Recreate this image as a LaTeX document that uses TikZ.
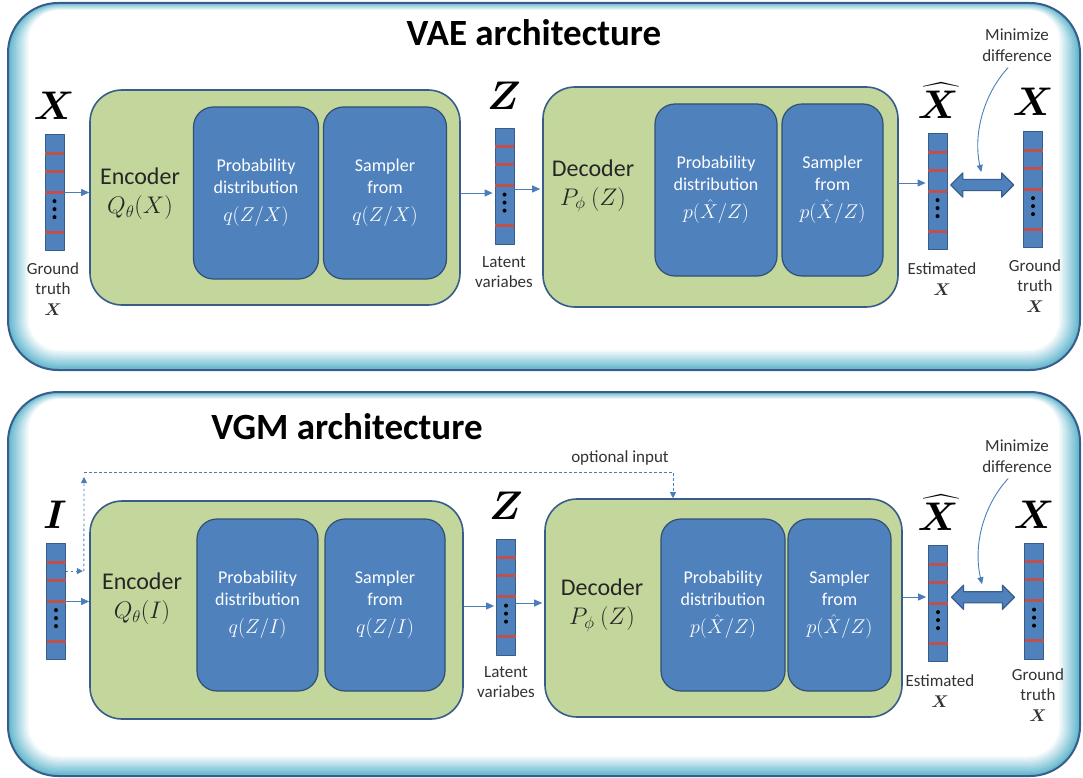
\RequirePackage{fix-cm}
\documentclass[tikz,border=0pt]{standalone}
\usepackage{amsmath}
\usepackage{fontspec}
\setmainfont{Carlito}
\usetikzlibrary{positioning,calc,shapes.arrows,arrows.meta}

\definecolor{panelblue}{RGB}{56,93,138}
\definecolor{glowcyan}{RGB}{75,172,198}
\definecolor{boxgreen}{RGB}{195,214,155}
\definecolor{boxblue}{RGB}{79,129,189}
\definecolor{stripered}{RGB}{192,80,77}
\definecolor{linkblue}{RGB}{74,126,187}

\tikzset{
  stage/.style={draw=panelblue, line width=1.6pt, fill=boxgreen, rounded corners=32pt, inner sep=0pt},
  block/.style={draw=panelblue!85!black, line width=1.2pt, fill=boxblue, rounded corners=20pt, inner sep=0pt,
    text=white, align=center, font=\fontsize{18}{22}\selectfont},
  stagetxt/.style={align=center, text=black!85, font=\fontsize{24}{29}\selectfont},
  vecbox/.style={draw=panelblue, line width=0.8pt, fill=boxblue, minimum width=19pt, minimum height=116pt, inner sep=0pt},
  conn/.style={->, linkblue, line width=0.9pt},
  optline/.style={-{Triangle[length=6pt,width=6pt]}, linkblue, line width=0.9pt, line cap=butt, dash pattern=on 2.5pt off 2.5pt},
  thinlink/.style={-{Triangle[length=7pt,width=6pt]}, linkblue, line width=0.9pt},
  diffarrow/.style={double arrow, draw=panelblue, line width=1.2pt, fill=boxblue, minimum height=63pt,
    minimum width=23pt, inner xsep=0pt, inner ysep=5pt, double arrow head extend=6.5pt},
  lbl/.style={align=center, text=black!80, font=\fontsize{17}{20.5}\selectfont},
  biglbl/.style={inner sep=0pt, font=\fontsize{40}{40}\selectfont},
  titlelbl/.style={font=\fontsize{37}{42}\selectfont\bfseries},
}

% red stripes and dots of a vector
\newcommand{\vecmarks}[1]{%
  \foreach \s in {19,37,58,98}
    \draw[stripered, line width=3pt, line cap=butt] ($(#1.north west)+(0.4,\s)$) -- ($(#1.north east)+(-0.4,\s)$);
  \foreach \m in {67,75,83}
    \fill ($(#1.north)+(0,\m)$) circle (2pt);
}
\newcommand{\bigmath}[1]{{\fontsize{20}{22}\selectfont$#1$}}

\begin{document}
\begin{tikzpicture}[x=1pt,y=-1pt,line cap=round,line join=round,>={Triangle[length=8pt,width=7pt]}]
  \useasboundingbox (0,0) rectangle (1083,778);

  % panels with a glow inside
  \foreach \ya/\yb in {3/370,392/776}{
    \foreach \i in {0,...,16}{
      \pgfmathsetmacro\p{88-5.5*\i}
      \pgfmathsetmacro\r{50-1.2*\i}
      \fill[glowcyan!\p!white, rounded corners=\r pt] (8+1.3*\i,\ya+0.45*\i) rectangle (1080-1.3*\i,\yb-1.25*\i);
    }
    \draw[panelblue, line width=2pt, rounded corners=50pt] (8,\ya) rectangle (1080,\yb);
  }

  %% VAE
  \node[titlelbl] (vae) at (534,33) {VAE architecture};

  \node[stage, minimum width=370pt, minimum height=215pt] (enc1) at (275,197.5) {};
  \node[block, minimum width=125pt, minimum height=172pt] (encp1) at (256,193) {Probability\\distribution\\[6pt]\bigmath{q(Z/X)}};
  \node[block, minimum width=123pt, minimum height=172pt] (encs1) at (385,193) {Sampler\\from\\[6pt]\bigmath{q(Z/X)}};
  \node[stagetxt] (enct1) at (140,194) {Encoder\\$Q_\theta(X)$};

  \node[stage, minimum width=355pt, minimum height=220pt] (dec1) at (720.5,197) {};
  \node[block, minimum width=122pt, minimum height=172pt] (decp1) at (716,190) {Probability\\distribution\\[6pt]\bigmath{p(\hat{X}/Z)}};
  \node[block, minimum width=101pt, minimum height=172pt] (decs1) at (832.5,190) {Sampler\\from\\[6pt]\bigmath{p(\hat{X}/Z)}};
  \node[stagetxt] (dect1) at (593,186) {Decoder\\$P_\phi\ (Z)$};

  \node[vecbox] (x1) at (54.5,192.5) {};
  \node[vecbox] (z1) at (504.5,186) {};
  \node[vecbox] (xh1) at (937.5,191.5) {};
  \node[vecbox] (xg1) at (1033,189.5) {};
  \foreach \v in {x1,z1,xh1,xg1} {\vecmarks{\v}}

  \node[biglbl] (xl1) at (54,106) {$\boldsymbol{X}$};
  \node[biglbl] (zl1) at (504,96) {$\boldsymbol{Z}$};
  \node[biglbl] (xhl1) at (938,101) {$\boldsymbol{\widehat{X}}$};
  \node[biglbl] (xgl1) at (1033,102) {$\boldsymbol{X}$};

  \node[lbl] (gt1) at (53,289) {Ground\\truth\\$\boldsymbol{X}$};
  \node[lbl] (lv1) at (504,272) {Latent\\variabes};
  \node[lbl] (est1) at (942,279) {Estimated\\$\boldsymbol{X}$};
  \node[lbl] (gt1r) at (1035,286) {Ground\\truth\\$\boldsymbol{X}$};
  \node[lbl] (md1) at (1017,45) {Minimize\\difference};

  \draw[conn] (x1.east) -- (x1.east -| enc1.west);
  \draw[conn] ($(enc1.east |- z1.west)+(0,7)$) -- ($(z1.west)+(-2,7)$);
  \draw[conn] ($(z1.east)+(0,3)$) -- ($(z1.east -| dec1.west)+(-2,3)$);
  \draw[conn] ($(dec1.east)+(0,-14)$) -- ($(dec1.east -| xh1.west)+(-2,-14)$);
  \node[diffarrow] (da1) at ($(xh1.east)!0.5!(xg1.west)+(-3,-5.5)$) {};
  \draw[thinlink] ($(md1.south)+(-9,3)$) .. controls (983,95) and (973,135) .. ($(da1.center)+(-1,-13)$);

  %% VGM
  \node[titlelbl] (vgm) at (347,427) {VGM architecture};

  \node[stage, minimum width=373pt, minimum height=218pt] (enc2) at (276.5,610) {};
  \node[block, minimum width=121pt, minimum height=172pt] (encp2) at (257.5,605) {Probability\\distribution\\[6pt]\bigmath{q(Z/I)}};
  \node[block, minimum width=120pt, minimum height=172pt] (encs2) at (385,605) {Sampler\\from\\[6pt]\bigmath{q(Z/I)}};
  \node[stagetxt] (enct2) at (142,599) {Encoder\\$Q_\theta(I)$};

  \node[stage, minimum width=357pt, minimum height=218pt] (dec2) at (723.5,608) {};
  \node[block, minimum width=124pt, minimum height=172pt] (decp2) at (723,605) {Probability\\distribution\\[6pt]\bigmath{p(\hat{X}/Z)}};
  \node[block, minimum width=103pt, minimum height=172pt] (decs2) at (839.5,605) {Sampler\\from\\[6pt]\bigmath{p(\hat{X}/Z)}};
  \node[stagetxt] (dect2) at (602,605) {Decoder\\$P_\phi\ (Z)$};

  \node[vecbox] (i2) at (56,601.5) {};
  \node[vecbox] (z2) at (506,597) {};
  \node[vecbox] (xh2) at (938,603.5) {};
  \node[vecbox] (xg2) at (1034,601) {};
  \foreach \v in {i2,z2,xh2,xg2} {\vecmarks{\v}}

  \node[biglbl] (il2) at (55,515) {$\boldsymbol{I}$};
  \node[biglbl] (zl2) at (506,506) {$\boldsymbol{Z}$};
  \node[biglbl] (xhl2) at (938,513) {$\boldsymbol{\widehat{X}}$};
  \node[biglbl] (xgl2) at (1034,515) {$\boldsymbol{X}$};

  \node[lbl] (lv2) at (506,682) {Latent\\variabes};
  \node[lbl] (est2) at (940,691) {Estimated\\$\boldsymbol{X}$};
  \node[lbl] (gt2r) at (1038,695) {Ground\\truth\\$\boldsymbol{X}$};
  \node[lbl] (md2) at (1017,456) {Minimize\\difference};
  \node[lbl] (opt) at (620,458) {optional input};

  \draw[conn] (i2.east) -- (i2.east -| enc2.west);
  \draw[conn] ($(enc2.east |- z2.west)+(0,9)$) -- ($(z2.west)+(-2,9)$);
  \draw[conn] ($(z2.east)+(0,6)$) -- ($(z2.east -| dec2.west)+(-2,6)$);
  \draw[conn] ($(dec2.east)+(0,-11)$) -- ($(dec2.east -| xh2.west)+(-2,-11)$);
  \node[diffarrow] (da2) at ($(xh2.east)!0.5!(xg2.west)+(-3,-5)$) {};
  \draw[thinlink] ($(md2.south)+(-9,3)$) .. controls (983,506) and (973,546) .. ($(da2.center)+(-1,-13)$);

  % optional input line
  \coordinate (ob) at ($(i2.north east)+(18,28)$);
  \coordinate (ot) at (84,472);
  \coordinate (oc) at (673,472);
  \draw[optline] ($(i2.north east)+(0,28)$) -- ($(ob)+(-1,0)$);
  \draw[optline] (ob) -- ($(ot)+(0,5)$);
  \draw[optline] (ot) -- (oc) -- (oc |- dec2.north);
\end{tikzpicture}
\end{document}
